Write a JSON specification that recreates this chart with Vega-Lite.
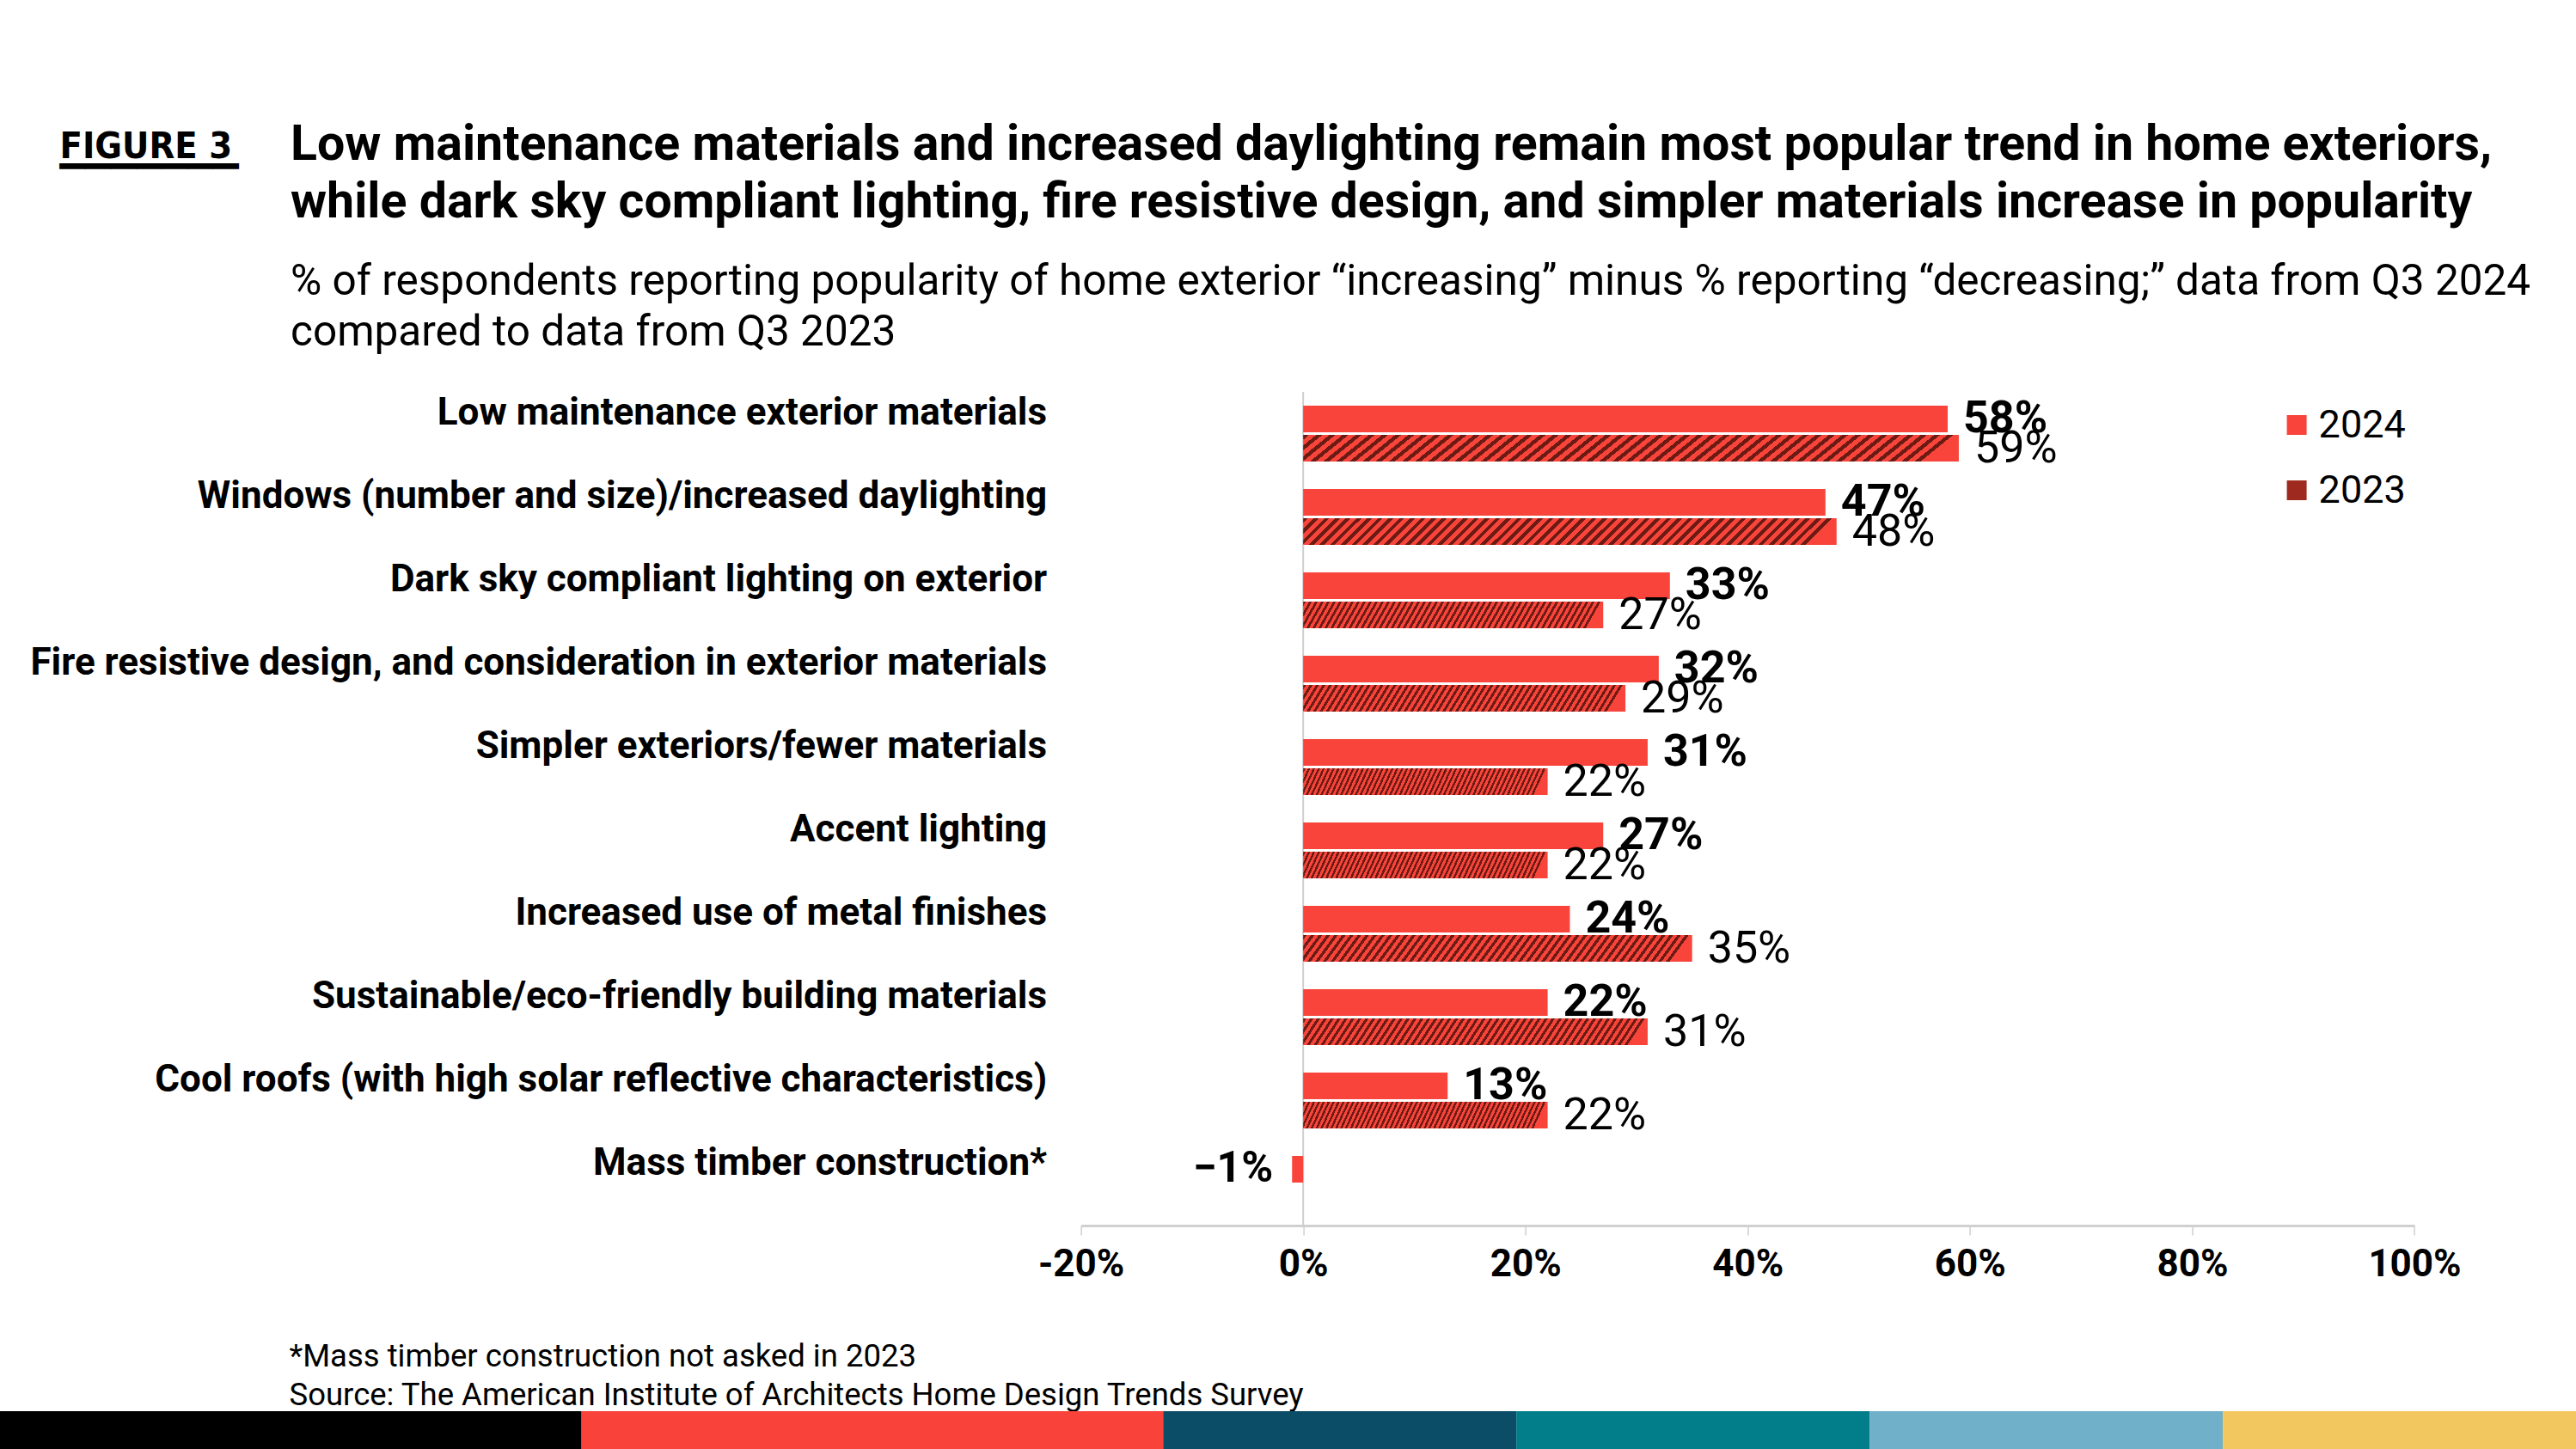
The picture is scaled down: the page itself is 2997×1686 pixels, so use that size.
{
  "$schema": "https://vega.github.io/schema/vega-lite/v6.json",
  "width": 1551.4,
  "height": 970,
  "autosize": {"type": "none"},
  "padding": {"left": 1257.6, "top": 456, "right": 188, "bottom": 260},
  "background": "white",
  "title": {
    "text": ["Low maintenance materials and increased daylighting remain most popular trend in home exteriors,", "while dark sky compliant lighting, fire resistive design, and simpler materials increase in popularity"],
    "subtitle": ["% of respondents reporting popularity of home exterior “increasing” minus % reporting “decreasing;” data from Q3 2024", "compared to data from Q3 2023"],
    "anchor": "start", "frame": "group", "dx": -919.6, "dy": 283, "offset": 20,
    "font": "Roboto", "fontSize": 57.3, "fontWeight": "bold", "color": "#000000", "lineHeight": 67,
    "subtitleFont": "Roboto", "subtitleFontSize": 49.5, "subtitleColor": "#000000", "subtitleLineHeight": 59, "subtitlePadding": 38
  },
  "config": {"view": {"stroke": null}, "font": "Roboto"},
  "layer": [
    {
      "data": {"values": [{"v": 0}]},
      "mark": {"type": "rule", "color": "#CFCFCF", "strokeWidth": 2},
      "encoding": {"x": {"field": "v", "type": "quantitative", "scale": {"domain": [-0.2, 1], "nice": false}, "axis": null}}
    },
    {
      "data": {"values": [
        {"cat": "Low maintenance exterior materials", "year": "2024", "v": 0.58},
        {"cat": "Low maintenance exterior materials", "year": "2023", "v": 0.59},
        {"cat": "Windows (number and size)/increased daylighting", "year": "2024", "v": 0.47},
        {"cat": "Windows (number and size)/increased daylighting", "year": "2023", "v": 0.48},
        {"cat": "Dark sky compliant lighting on exterior", "year": "2024", "v": 0.33},
        {"cat": "Dark sky compliant lighting on exterior", "year": "2023", "v": 0.27},
        {"cat": "Fire resistive design, and consideration in exterior materials", "year": "2024", "v": 0.32},
        {"cat": "Fire resistive design, and consideration in exterior materials", "year": "2023", "v": 0.29},
        {"cat": "Simpler exteriors/fewer materials", "year": "2024", "v": 0.31},
        {"cat": "Simpler exteriors/fewer materials", "year": "2023", "v": 0.22},
        {"cat": "Accent lighting", "year": "2024", "v": 0.27},
        {"cat": "Accent lighting", "year": "2023", "v": 0.22},
        {"cat": "Increased use of metal finishes", "year": "2024", "v": 0.24},
        {"cat": "Increased use of metal finishes", "year": "2023", "v": 0.35},
        {"cat": "Sustainable/eco-friendly building materials", "year": "2024", "v": 0.22},
        {"cat": "Sustainable/eco-friendly building materials", "year": "2023", "v": 0.31},
        {"cat": "Cool roofs (with high solar reflective characteristics)", "year": "2024", "v": 0.13},
        {"cat": "Cool roofs (with high solar reflective characteristics)", "year": "2023", "v": 0.22},
        {"cat": "Mass timber construction*", "year": "2024", "v": -0.01}
      ]},
      "encoding": {
        "x": {"field": "v", "type": "quantitative", "scale": {"domain": [-0.2, 1], "nice": false},
          "axis": {"orient": "bottom", "values": [-0.2, 0, 0.2, 0.4, 0.6, 0.8, 1], "format": ".0%", "labelExpr": "replace(datum.label, '−', '-')",
            "labelFont": "Roboto", "labelFontSize": 44, "labelFontWeight": "bold", "labelColor": "#000000", "labelPadding": 12, "labelFlush": false,
            "domainColor": "#D0D0D0", "domainWidth": 3, "tickColor": "#D0D0D0", "tickSize": 11, "tickWidth": 1.5, "grid": false,
            "title": ["*Mass timber construction not asked in 2023", "Source: The American Institute of Architects Home Design Trends Survey"],
            "titleX": -921.6, "titleY": 163, "titleAlign": "left", "titleAnchor": "start", "titleBaseline": "alphabetic", "titleFont": "Roboto", "titleFontSize": 36.5, "titleFontWeight": "normal", "titleColor": "#000000", "titleLineHeight": 45}},
        "y": {"field": "cat", "type": "nominal", "sort": ["Low maintenance exterior materials", "Windows (number and size)/increased daylighting", "Dark sky compliant lighting on exterior", "Fire resistive design, and consideration in exterior materials", "Simpler exteriors/fewer materials", "Accent lighting", "Increased use of metal finishes", "Sustainable/eco-friendly building materials", "Cool roofs (with high solar reflective characteristics)", "Mass timber construction*"],
          "scale": {"paddingInner": 0, "paddingOuter": 0},
          "axis": {"orient": "left", "ticks": false, "domain": false, "grid": false, "labelFont": "Roboto", "labelFontSize": 44, "labelFontWeight": "bold", "labelColor": "#000000", "labelPadding": 40, "labelOffset": -24, "labelLimit": 1500,
            "title": ["FIGURE 3", "▁▁▁▁▁▁▁"], "titleAngle": 0, "titleX": -1188.6, "titleY": -273, "titleAlign": "left", "titleBaseline": "alphabetic", "titleFont": "DejaVu Sans Condensed", "titleFontSize": 43, "titleFontWeight": "bold", "titleColor": "#000000", "titleLineHeight": 2}},
        "yOffset": {"field": "year", "type": "nominal", "scale": {"domain": ["2024", "2023"], "paddingInner": 0.09, "paddingOuter": 0.47}}
      },
      "layer": [
        {
          "mark": {"type": "bar", "strokeWidth": 0},
          "encoding": {
            "fill": {
              "condition": {"test": "datum.year === '2023'", "value": {"gradient": "linear", "x1": 0, "y1": 0, "x2": 1, "y2": 0.05, "stops": [
                {"offset":0,"color":"#6B1B13"},{"offset":0.009,"color":"#6B1B13"},{"offset":0.009,"color":"#F8443A"},{"offset":0.02,"color":"#F8443A"},
                {"offset":0.02,"color":"#6B1B13"},{"offset":0.029,"color":"#6B1B13"},{"offset":0.029,"color":"#F8443A"},{"offset":0.04,"color":"#F8443A"},
                {"offset":0.04,"color":"#6B1B13"},{"offset":0.049,"color":"#6B1B13"},{"offset":0.049,"color":"#F8443A"},{"offset":0.06,"color":"#F8443A"},
                {"offset":0.06,"color":"#6B1B13"},{"offset":0.069,"color":"#6B1B13"},{"offset":0.069,"color":"#F8443A"},{"offset":0.08,"color":"#F8443A"},
                {"offset":0.08,"color":"#6B1B13"},{"offset":0.089,"color":"#6B1B13"},{"offset":0.089,"color":"#F8443A"},{"offset":0.1,"color":"#F8443A"},
                {"offset":0.1,"color":"#6B1B13"},{"offset":0.109,"color":"#6B1B13"},{"offset":0.109,"color":"#F8443A"},{"offset":0.12,"color":"#F8443A"},
                {"offset":0.12,"color":"#6B1B13"},{"offset":0.129,"color":"#6B1B13"},{"offset":0.129,"color":"#F8443A"},{"offset":0.14,"color":"#F8443A"},
                {"offset":0.14,"color":"#6B1B13"},{"offset":0.149,"color":"#6B1B13"},{"offset":0.149,"color":"#F8443A"},{"offset":0.16,"color":"#F8443A"},
                {"offset":0.16,"color":"#6B1B13"},{"offset":0.169,"color":"#6B1B13"},{"offset":0.169,"color":"#F8443A"},{"offset":0.18,"color":"#F8443A"},
                {"offset":0.18,"color":"#6B1B13"},{"offset":0.189,"color":"#6B1B13"},{"offset":0.189,"color":"#F8443A"},{"offset":0.2,"color":"#F8443A"},
                {"offset":0.2,"color":"#6B1B13"},{"offset":0.209,"color":"#6B1B13"},{"offset":0.209,"color":"#F8443A"},{"offset":0.22,"color":"#F8443A"},
                {"offset":0.22,"color":"#6B1B13"},{"offset":0.229,"color":"#6B1B13"},{"offset":0.229,"color":"#F8443A"},{"offset":0.24,"color":"#F8443A"},
                {"offset":0.24,"color":"#6B1B13"},{"offset":0.249,"color":"#6B1B13"},{"offset":0.249,"color":"#F8443A"},{"offset":0.26,"color":"#F8443A"},
                {"offset":0.26,"color":"#6B1B13"},{"offset":0.269,"color":"#6B1B13"},{"offset":0.269,"color":"#F8443A"},{"offset":0.28,"color":"#F8443A"},
                {"offset":0.28,"color":"#6B1B13"},{"offset":0.289,"color":"#6B1B13"},{"offset":0.289,"color":"#F8443A"},{"offset":0.3,"color":"#F8443A"},
                {"offset":0.3,"color":"#6B1B13"},{"offset":0.309,"color":"#6B1B13"},{"offset":0.309,"color":"#F8443A"},{"offset":0.32,"color":"#F8443A"},
                {"offset":0.32,"color":"#6B1B13"},{"offset":0.329,"color":"#6B1B13"},{"offset":0.329,"color":"#F8443A"},{"offset":0.34,"color":"#F8443A"},
                {"offset":0.34,"color":"#6B1B13"},{"offset":0.349,"color":"#6B1B13"},{"offset":0.349,"color":"#F8443A"},{"offset":0.36,"color":"#F8443A"},
                {"offset":0.36,"color":"#6B1B13"},{"offset":0.369,"color":"#6B1B13"},{"offset":0.369,"color":"#F8443A"},{"offset":0.38,"color":"#F8443A"},
                {"offset":0.38,"color":"#6B1B13"},{"offset":0.389,"color":"#6B1B13"},{"offset":0.389,"color":"#F8443A"},{"offset":0.4,"color":"#F8443A"},
                {"offset":0.4,"color":"#6B1B13"},{"offset":0.409,"color":"#6B1B13"},{"offset":0.409,"color":"#F8443A"},{"offset":0.42,"color":"#F8443A"},
                {"offset":0.42,"color":"#6B1B13"},{"offset":0.429,"color":"#6B1B13"},{"offset":0.429,"color":"#F8443A"},{"offset":0.44,"color":"#F8443A"},
                {"offset":0.44,"color":"#6B1B13"},{"offset":0.449,"color":"#6B1B13"},{"offset":0.449,"color":"#F8443A"},{"offset":0.46,"color":"#F8443A"},
                {"offset":0.46,"color":"#6B1B13"},{"offset":0.469,"color":"#6B1B13"},{"offset":0.469,"color":"#F8443A"},{"offset":0.48,"color":"#F8443A"},
                {"offset":0.48,"color":"#6B1B13"},{"offset":0.489,"color":"#6B1B13"},{"offset":0.489,"color":"#F8443A"},{"offset":0.5,"color":"#F8443A"},
                {"offset":0.5,"color":"#6B1B13"},{"offset":0.509,"color":"#6B1B13"},{"offset":0.509,"color":"#F8443A"},{"offset":0.52,"color":"#F8443A"},
                {"offset":0.52,"color":"#6B1B13"},{"offset":0.529,"color":"#6B1B13"},{"offset":0.529,"color":"#F8443A"},{"offset":0.54,"color":"#F8443A"},
                {"offset":0.54,"color":"#6B1B13"},{"offset":0.549,"color":"#6B1B13"},{"offset":0.549,"color":"#F8443A"},{"offset":0.56,"color":"#F8443A"},
                {"offset":0.56,"color":"#6B1B13"},{"offset":0.569,"color":"#6B1B13"},{"offset":0.569,"color":"#F8443A"},{"offset":0.58,"color":"#F8443A"},
                {"offset":0.58,"color":"#6B1B13"},{"offset":0.589,"color":"#6B1B13"},{"offset":0.589,"color":"#F8443A"},{"offset":0.6,"color":"#F8443A"},
                {"offset":0.6,"color":"#6B1B13"},{"offset":0.609,"color":"#6B1B13"},{"offset":0.609,"color":"#F8443A"},{"offset":0.62,"color":"#F8443A"},
                {"offset":0.62,"color":"#6B1B13"},{"offset":0.629,"color":"#6B1B13"},{"offset":0.629,"color":"#F8443A"},{"offset":0.64,"color":"#F8443A"},
                {"offset":0.64,"color":"#6B1B13"},{"offset":0.649,"color":"#6B1B13"},{"offset":0.649,"color":"#F8443A"},{"offset":0.66,"color":"#F8443A"},
                {"offset":0.66,"color":"#6B1B13"},{"offset":0.669,"color":"#6B1B13"},{"offset":0.669,"color":"#F8443A"},{"offset":0.68,"color":"#F8443A"},
                {"offset":0.68,"color":"#6B1B13"},{"offset":0.689,"color":"#6B1B13"},{"offset":0.689,"color":"#F8443A"},{"offset":0.7,"color":"#F8443A"},
                {"offset":0.7,"color":"#6B1B13"},{"offset":0.709,"color":"#6B1B13"},{"offset":0.709,"color":"#F8443A"},{"offset":0.72,"color":"#F8443A"},
                {"offset":0.72,"color":"#6B1B13"},{"offset":0.729,"color":"#6B1B13"},{"offset":0.729,"color":"#F8443A"},{"offset":0.74,"color":"#F8443A"},
                {"offset":0.74,"color":"#6B1B13"},{"offset":0.749,"color":"#6B1B13"},{"offset":0.749,"color":"#F8443A"},{"offset":0.76,"color":"#F8443A"},
                {"offset":0.76,"color":"#6B1B13"},{"offset":0.769,"color":"#6B1B13"},{"offset":0.769,"color":"#F8443A"},{"offset":0.78,"color":"#F8443A"},
                {"offset":0.78,"color":"#6B1B13"},{"offset":0.789,"color":"#6B1B13"},{"offset":0.789,"color":"#F8443A"},{"offset":0.8,"color":"#F8443A"},
                {"offset":0.8,"color":"#6B1B13"},{"offset":0.809,"color":"#6B1B13"},{"offset":0.809,"color":"#F8443A"},{"offset":0.82,"color":"#F8443A"},
                {"offset":0.82,"color":"#6B1B13"},{"offset":0.829,"color":"#6B1B13"},{"offset":0.829,"color":"#F8443A"},{"offset":0.84,"color":"#F8443A"},
                {"offset":0.84,"color":"#6B1B13"},{"offset":0.849,"color":"#6B1B13"},{"offset":0.849,"color":"#F8443A"},{"offset":0.86,"color":"#F8443A"},
                {"offset":0.86,"color":"#6B1B13"},{"offset":0.869,"color":"#6B1B13"},{"offset":0.869,"color":"#F8443A"},{"offset":0.88,"color":"#F8443A"},
                {"offset":0.88,"color":"#6B1B13"},{"offset":0.889,"color":"#6B1B13"},{"offset":0.889,"color":"#F8443A"},{"offset":0.9,"color":"#F8443A"},
                {"offset":0.9,"color":"#6B1B13"},{"offset":0.909,"color":"#6B1B13"},{"offset":0.909,"color":"#F8443A"},{"offset":0.92,"color":"#F8443A"},
                {"offset":0.92,"color":"#6B1B13"},{"offset":0.929,"color":"#6B1B13"},{"offset":0.929,"color":"#F8443A"},{"offset":0.94,"color":"#F8443A"},
                {"offset":0.94,"color":"#6B1B13"},{"offset":0.949,"color":"#6B1B13"},{"offset":0.949,"color":"#F8443A"},{"offset":0.96,"color":"#F8443A"},
                {"offset":0.96,"color":"#6B1B13"},{"offset":0.969,"color":"#6B1B13"},{"offset":0.969,"color":"#F8443A"},{"offset":0.98,"color":"#F8443A"},
                {"offset":0.98,"color":"#6B1B13"},{"offset":0.989,"color":"#6B1B13"},{"offset":0.989,"color":"#F8443A"},{"offset":1,"color":"#F8443A"}
              ]}},
              "field": "year", "type": "nominal",
              "scale": {"domain": ["2024", "2023"], "range": ["#F8443A", "#9E2A1F"]},
              "legend": {"orient": "none", "legendX": 1392, "legendY": 16, "title": null, "symbolType": "square", "symbolSize": 529, "symbolStrokeWidth": 0,
                "labelFont": "Roboto", "labelFontSize": 45, "labelColor": "#000000", "labelOffset": 3, "rowPadding": 30,
                "encode": {"symbols": {"update": {"fill": [
                  {"test": "datum.value === '2023'", "value": {"gradient": "linear", "x1": 0, "y1": 0, "x2": 1, "y2": 1, "stops": [
                    {"offset":0,"color":"#6B1B13"},{"offset":0.15,"color":"#6B1B13"},{"offset":0.15,"color":"#F8443A"},{"offset":0.333,"color":"#F8443A"},
                    {"offset":0.333,"color":"#6B1B13"},{"offset":0.483,"color":"#6B1B13"},{"offset":0.483,"color":"#F8443A"},{"offset":0.667,"color":"#F8443A"},
                    {"offset":0.667,"color":"#6B1B13"},{"offset":0.817,"color":"#6B1B13"},{"offset":0.817,"color":"#F8443A"},{"offset":1,"color":"#F8443A"}]}},
                  {"value": "#F8443A"}]}}}}
            }
          }
        },
        {
          "transform": [{"filter": "datum.year === '2024' && datum.v >= 0"}],
          "mark": {"type": "text", "align": "left", "baseline": "middle", "dx": 18, "font": "Roboto", "fontSize": 52, "fontWeight": "bold", "color": "#000000"},
          "encoding": {"text": {"field": "v", "type": "quantitative", "format": ".0%"}}
        },
        {
          "transform": [{"filter": "datum.year === '2024' && datum.v < 0"}],
          "mark": {"type": "text", "align": "right", "baseline": "middle", "dx": -22, "font": "Roboto", "fontSize": 50, "fontWeight": "bold", "color": "#000000"},
          "encoding": {"text": {"field": "v", "type": "quantitative", "format": ".0%"}}
        },
        {
          "transform": [{"filter": "datum.year === '2023'"}],
          "mark": {"type": "text", "align": "left", "baseline": "middle", "dx": 18, "font": "Roboto", "fontSize": 52, "fontWeight": "normal", "color": "#000000"},
          "encoding": {"text": {"field": "v", "type": "quantitative", "format": ".0%"}}
        }
      ]
    },
    {
      "data": {"values": [
        {"seg": "1", "w": 354}, {"seg": "2", "w": 354}, {"seg": "3", "w": 215},
        {"seg": "4", "w": 215}, {"seg": "5", "w": 215}, {"seg": "6", "w": 215}
      ]},
      "mark": {"type": "bar", "strokeWidth": 0},
      "encoding": {
        "x": {"field": "w", "type": "quantitative", "stack": "zero", "scale": {"domain": [0, 1568], "range": [-1257.6, 1739.4], "nice": false}, "axis": null},
        "y": {"datum": "strip", "type": "nominal", "scale": {"range": [1186, 1230], "paddingInner": 0, "paddingOuter": 0}, "axis": null},
        "order": {"field": "seg", "type": "ordinal"},
        "fill": {"field": "seg", "type": "nominal", "scale": {"domain": ["1", "2", "3", "4", "5", "6"], "range": ["#000000", "#F9423A", "#0B4D66", "#027E8B", "#71B0C9", "#F3C75F"]}, "legend": null}
      }
    }
  ],
  "resolve": {"scale": {"x": "independent", "y": "independent", "fill": "independent"}}
}
